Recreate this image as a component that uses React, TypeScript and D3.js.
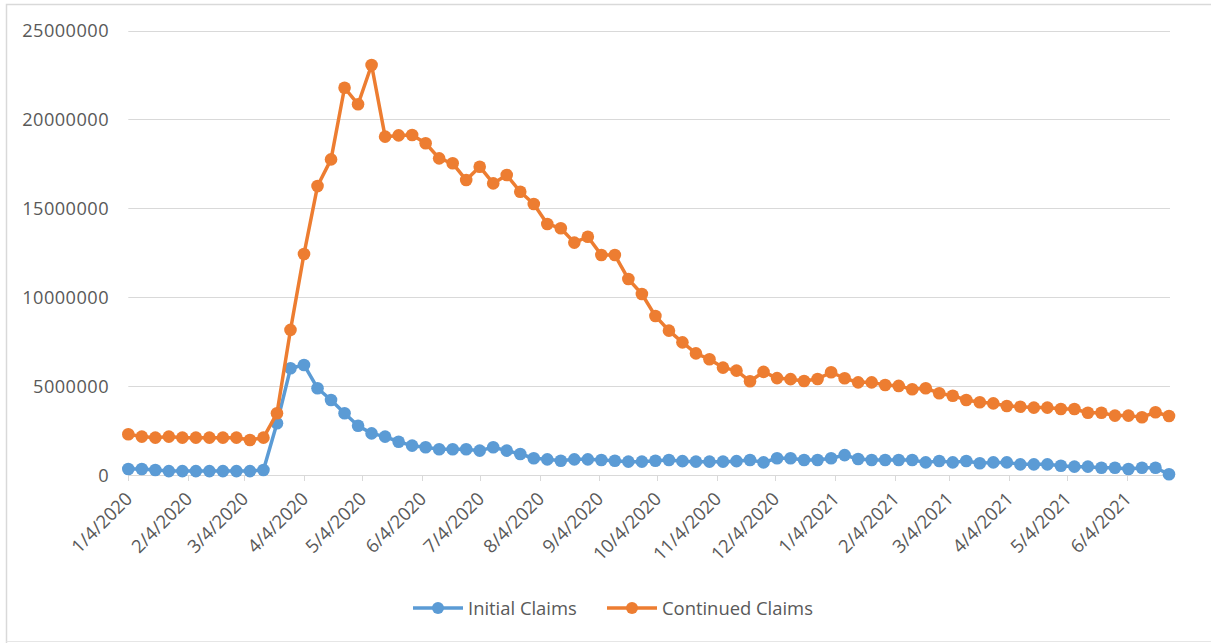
import React, { useEffect } from "react";
import * as d3 from "d3";

const weekDates: string[] = [
  "2020-01-04","2020-01-11","2020-01-18","2020-01-25","2020-02-01","2020-02-08","2020-02-15","2020-02-22","2020-02-29",
  "2020-03-07","2020-03-14","2020-03-21","2020-03-28","2020-04-04","2020-04-11","2020-04-18","2020-04-25",
  "2020-05-02","2020-05-09","2020-05-16","2020-05-23","2020-05-30","2020-06-06","2020-06-13","2020-06-20","2020-06-27",
  "2020-07-04","2020-07-11","2020-07-18","2020-07-25","2020-08-01","2020-08-08","2020-08-15","2020-08-22","2020-08-29",
  "2020-09-05","2020-09-12","2020-09-19","2020-09-26","2020-10-03","2020-10-10","2020-10-17","2020-10-24","2020-10-31",
  "2020-11-07","2020-11-14","2020-11-21","2020-11-28","2020-12-05","2020-12-12","2020-12-19","2020-12-26",
  "2021-01-02","2021-01-09","2021-01-16","2021-01-23","2021-01-30","2021-02-06","2021-02-13","2021-02-20","2021-02-27",
  "2021-03-06","2021-03-13","2021-03-20","2021-03-27","2021-04-03","2021-04-10","2021-04-17","2021-04-24",
  "2021-05-01","2021-05-08","2021-05-15","2021-05-22","2021-05-29","2021-06-05","2021-06-12","2021-06-19","2021-06-26",
];

// values in millions
const initialClaims: number[] = [
  0.34, 0.34, 0.28, 0.22, 0.22, 0.22, 0.22, 0.22, 0.22, 0.22, 0.28,
  2.91, 6.0, 6.19, 4.88, 4.22, 3.47, 2.77, 2.34, 2.16, 1.87, 1.65, 1.56, 1.45, 1.45, 1.45,
  1.37, 1.56, 1.37, 1.18, 0.94, 0.88, 0.80, 0.88, 0.88, 0.84, 0.80, 0.75, 0.75, 0.80,
  0.84, 0.78, 0.75, 0.75, 0.75, 0.78, 0.84, 0.71, 0.94, 0.94, 0.84, 0.84,
  0.94, 1.12, 0.90, 0.84, 0.84, 0.84, 0.84, 0.71, 0.79, 0.71, 0.79, 0.66, 0.71, 0.71,
  0.60, 0.60, 0.60, 0.52, 0.47, 0.47, 0.41, 0.41, 0.34, 0.41, 0.41, 0.04,
];

const continuedClaims: number[] = [
  2.29, 2.16, 2.10, 2.16, 2.10, 2.10, 2.10, 2.10, 2.10, 1.97, 2.10,
  3.47, 8.16, 12.43, 16.25, 17.75, 21.78, 20.85, 23.06, 19.03, 19.1, 19.12, 18.66, 17.81, 17.53, 16.59,
  17.34, 16.40, 16.87, 15.93, 15.24, 14.12, 13.88, 13.07, 13.40, 12.37, 12.37, 11.02, 10.18, 8.94,
  8.12, 7.46, 6.84, 6.51, 6.04, 5.87, 5.27, 5.80, 5.45, 5.39, 5.29, 5.40,
  5.78, 5.44, 5.21, 5.21, 5.06, 5.01, 4.82, 4.88, 4.60, 4.46, 4.22, 4.09, 4.03, 3.88,
  3.84, 3.79, 3.79, 3.71, 3.71, 3.50, 3.50, 3.34, 3.34, 3.25, 3.53, 3.32,
];

const tickDates: string[] = [
  "2020-01-04","2020-02-04","2020-03-04","2020-04-04","2020-05-04","2020-06-04","2020-07-04","2020-08-04","2020-09-04",
  "2020-10-04","2020-11-04","2020-12-04","2021-01-04","2021-02-04","2021-03-04","2021-04-04","2021-05-04","2021-06-04",
];
const yTicks: number[] = [0, 5000000, 10000000, 15000000, 20000000, 25000000];

const seriesNames = ["Initial Claims", "Continued Claims"];
const seriesColors = ["#5B9BD5", "#ED7D31"];

const parse = d3.timeParse("%Y-%m-%d");
const fmt = d3.timeFormat("%-m/%-d/%Y");

export default function App() {
  useEffect(() => {
    document.body.style.margin = "0";
  }, []);

  const W = 1211, H = 643;
  const x = d3.scaleTime()
    .domain([parse(weekDates[0])!, parse(weekDates[weekDates.length - 1])!])
    .range([128.3, 1169]);
  const y = d3.scaleLinear().domain([0, 25000000]).range([475, 30.5]);
  const gridLeft = 128.3, gridRight = 1170;
  const font = "'Open Sans', 'Noto Sans', sans-serif";

  const series = [initialClaims, continuedClaims];
  const line = d3.line<number>()
    .x((_, i) => x(parse(weekDates[i])!))
    .y((d) => y(d * 1e6));

  return (
    <svg width={W} height={H} style={{ position: "absolute", left: 0, top: 0, background: "#fff" }}>
      <rect x={0} y={0} width={W} height={H} fill="#fff" />
      <path d={`M6.5,${H} V4.5 H${W}`} fill="none" stroke="#D9D9D9" strokeWidth={1.5} />
      <line x1={6.5} x2={W} y1={641.5} y2={641.5} stroke="#E6E6E6" strokeWidth={1.2} />
      {yTicks.map((t) => (
        <g key={t}>
          <line x1={gridLeft} x2={gridRight} y1={Math.round(y(t)) + 0.5} y2={Math.round(y(t)) + 0.5} stroke="#D9D9D9" strokeWidth={1} />
          <text x={109} y={y(t)} dy="0.36em" textAnchor="end" fontFamily={font} fontSize={18.2} letterSpacing={0.45} fill="#595959">
            {String(t)}
          </text>
        </g>
      ))}
      {tickDates.map((s) => {
        const tx = Math.round(x(parse(s)!)) + 0.5;
        return (
          <g key={s}>
            <line x1={tx} x2={tx} y1={475} y2={481} stroke="#D9D9D9" strokeWidth={1} />
            <text transform={`translate(${tx + 5},${500}) rotate(-45)`} textAnchor="end" fontFamily={font} fontSize={18.4} fill="#595959">
              {fmt(parse(s)!)}
            </text>
          </g>
        );
      })}
      {series.map((vals, si) => (
        <g key={si}>
          <path d={line(vals) || ""} fill="none" stroke={seriesColors[si]} strokeWidth={3.5} strokeLinejoin="round" />
          {vals.map((v, i) => (
            <circle key={i} cx={x(parse(weekDates[i])!)} cy={y(v * 1e6)} r={6.3} fill={seriesColors[si]} />
          ))}
        </g>
      ))}
      {seriesNames.map((name, si) => {
        const lx = si === 0 ? 413 : 607;
        return (
          <g key={name}>
            <line x1={lx} x2={lx + 50} y1={608} y2={608} stroke={seriesColors[si]} strokeWidth={3.5} />
            <circle cx={lx + 25} cy={608} r={6} fill={seriesColors[si]} />
            <text x={lx + 55} y={608} dy="0.36em" fontFamily={font} fontSize={18.4} fill="#595959">{name}</text>
          </g>
        );
      })}
    </svg>
  );
}
